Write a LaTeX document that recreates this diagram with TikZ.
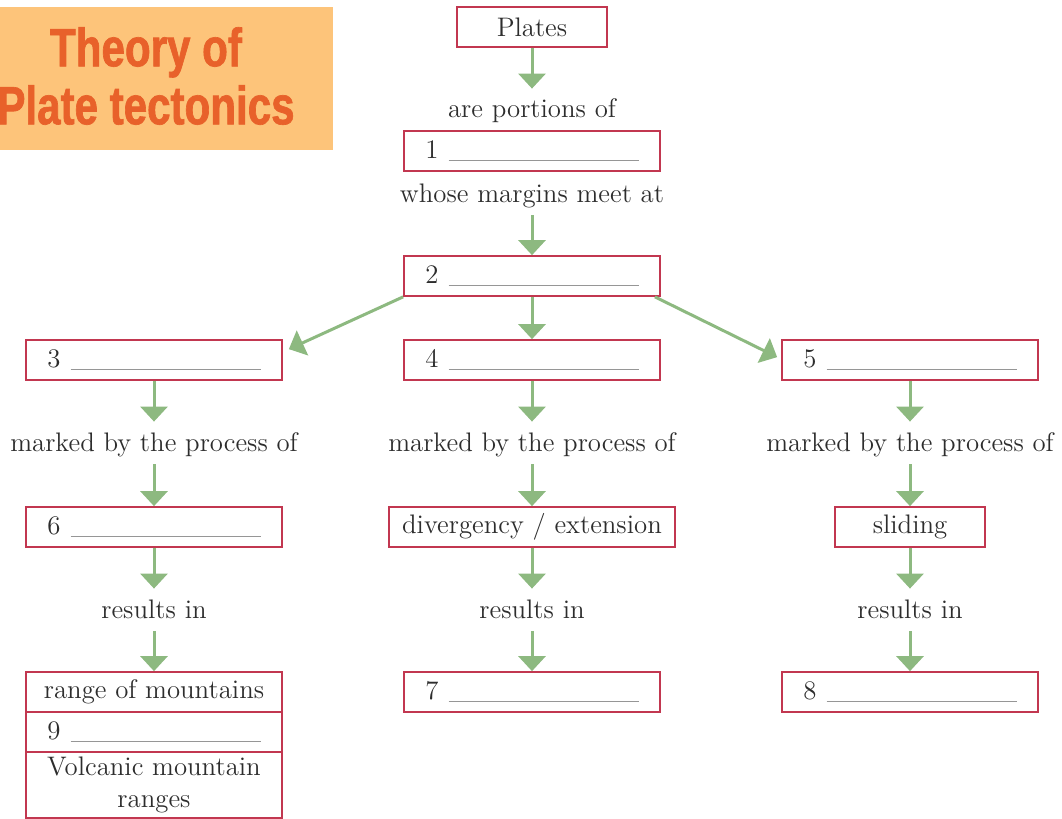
\documentclass[tikz,border=0pt]{standalone}
\usepackage{fontspec}
\newfontfamily\titlefont[FakeStretch=0.78, FakeBold=1.2]{Liberation Sans}
\usepackage{xcolor}
\definecolor{boxred}{RGB}{194, 55, 80}
\definecolor{arrgreen}{RGB}{141, 185, 128}
\definecolor{titlebg}{RGB}{253, 196, 122}
\definecolor{titleor}{RGB}{232, 97, 42}
\definecolor{textgray}{RGB}{45, 45, 45}
\definecolor{linegray}{RGB}{150, 150, 150}
\usetikzlibrary{arrows.meta, positioning}
\newcommand{\blankno}[1]{#1\hspace{5pt}\textcolor{linegray}{\rule[-1.2pt]{95pt}{0.6pt}}}
\tikzset{
  cajon/.style={draw=boxred, line width=0.85pt, minimum width=128pt, minimum height=20pt, inner sep=0pt, text=textgray},
  etiq/.style={text=textgray, text height=10pt, text depth=2pt, inner ysep=4.5pt, inner xsep=0pt},
  flecha/.style={draw=arrgreen, line width=1.5pt, -{Triangle[length=7.5pt,width=13.5pt]}}
}
\begin{document}
\begin{tikzpicture}[x=0.5pt, y=-0.5pt, font=\fontsize{13.4pt}{16pt}\selectfont]
    \useasboundingbox (0,0) rectangle (1062,819);
    % title
    \fill[titlebg] (0,7) rectangle (333,150);
    \node[align=center, text=titleor, font=\titlefont\bfseries\fontsize{27pt}{29pt}\selectfont] (titulo) at (146,76) {Theory of\\Plate tectonics};
    % top chain
    \node[cajon, minimum width=75pt] (plates) at (532,27) {Plates};
    \node[etiq] (portions) at (532,110) {are portions of};
    \node[cajon] (b1) at (532,151) {\blankno{1}};
    \node[etiq] (meet) at (532,194) {whose margins meet at};
    \node[cajon] (b2) at (532,276) {\blankno{2}};
    \draw[flecha] (plates) -- (portions);
    \draw[flecha] (meet) -- (b2);
    % three branches
    \node[cajon] (b3) at (154,360) {\blankno{3}};
    \node[cajon] (b4) at (532,360) {\blankno{4}};
    \node[cajon] (b5) at (910,360) {\blankno{5}};
    \draw[flecha] (b2.south west) -- ([shift={(3pt,-5pt)}]b3.north east);
    \draw[flecha] (b2) -- (b4);
    \draw[flecha] ([xshift=-3pt]b2.south east) -- ([shift={(-2pt,-9pt)}]b5.north west);
    \node[etiq] (proc3) at (154,443) {marked by the process of};
    \node[etiq] (proc4) at (532,443) {marked by the process of};
    \node[etiq] (proc5) at (910,443) {marked by the process of};
    \node[cajon] (b6) at (154,527) {\blankno{6}};
    \node[cajon, minimum width=143pt] (diver) at (532,527) {divergency / extension};
    \node[cajon, minimum width=75pt] (slide) at (910,527) {sliding};
    \node[etiq] (res3) at (154,610) {results in};
    \node[etiq] (res4) at (532,610) {results in};
    \node[etiq] (res5) at (910,610) {results in};
    \node[cajon] (range) at (154,692) {range of mountains};
    \node[cajon, below=-0.85pt of range] (b9) {\blankno{9}};
    \node[cajon, below=-0.85pt of b9, minimum height=33pt, align=center] (volc) {Volcanic mountain\\ranges};
    \node[cajon] (b7) at (532,692) {\blankno{7}};
    \node[cajon] (b8) at (910,692) {\blankno{8}};
    \draw[flecha] (b3) -- (proc3);
    \draw[flecha] (b4) -- (proc4);
    \draw[flecha] (b5) -- (proc5);
    \draw[flecha] (proc3) -- (b6);
    \draw[flecha] (proc4) -- (diver);
    \draw[flecha] (proc5) -- (slide);
    \draw[flecha] (b6) -- (res3);
    \draw[flecha] (diver) -- (res4);
    \draw[flecha] (slide) -- (res5);
    \draw[flecha] (res3) -- (range);
    \draw[flecha] (res4) -- (b7);
    \draw[flecha] (res5) -- (b8);
\end{tikzpicture}
\end{document}
